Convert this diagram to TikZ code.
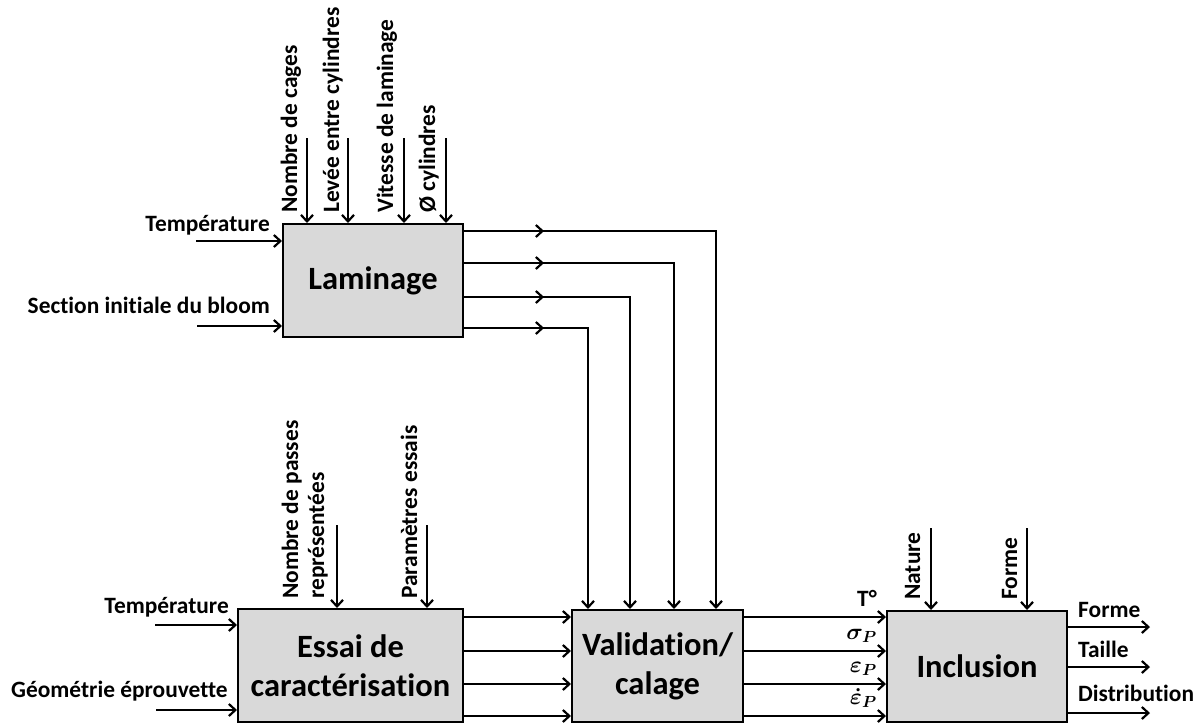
\RequirePackage{fix-cm}
\documentclass[tikz,border=0pt]{standalone}
\usepackage{fontspec}
\setmainfont{Carlito}[Ligatures={NoCommon}]
\usetikzlibrary{arrows.meta,decorations.markings}
\definecolor{boxgray}{HTML}{D9D9D9}
\begin{document}
\begin{tikzpicture}[x=1pt,y=-1pt,
  box/.style={draw,line width=2pt,fill=boxgray,align=center,inner sep=0pt,
    font=\fontsize{32.5}{39}\selectfont\bfseries},
  lbl/.style={inner sep=0pt,font=\fontsize{23.4}{26}\selectfont\bfseries},
  mlbl/.style={inner sep=0pt,font=\fontsize{23}{26}\selectfont\boldmath},
  vlbl/.style={lbl,rotate=90,anchor=base west},
  ln/.style={line width=2pt},
  arr/.style={line width=2.2pt,-{Straight Barb[length=6.5pt,width=12pt]}},
  midarr/.style={postaction={decorate},decoration={markings,
    mark=at position 80pt with {\arrow{Straight Barb[length=6.5pt,width=12pt]}}}}
]
\useasboundingbox (0,0) rectangle (1200,724);

% boxes
\node[box,minimum width=180pt,minimum height=113pt] (lam) at (373,280.5) {Laminage};
\node[box,minimum width=225pt,minimum height=113pt] (ess) at (350.5,665.5) {Essai de\\caractérisation};
\node[box,minimum width=171pt,minimum height=112pt] (val) at (657.5,666) {Validation/\\calage};
\node[box,minimum width=180pt,minimum height=111pt] (inc) at (977,666.5) {Inclusion};

% Laminage inputs
\coordinate (lt) at (196,241);
\draw[arr] (lt) -- (lt -| lam.west);
\node[lbl,anchor=base east] (ltl) at (270,231) {Température};
\coordinate (ls) at (197,326);
\draw[arr] (ls) -- (ls -| lam.west);
\node[lbl,anchor=base east] (lsl) at (270,313) {Section initiale du bloom};

% Laminage controls
\coordinate (lc1) at (307,138);
\coordinate (lc2) at (348,138);
\coordinate (lc3) at (404,138);
\coordinate (lc4) at (446,138);
\foreach \c in {lc1,lc2,lc3,lc4} \draw[arr] (\c) -- (\c |- lam.north);
\node[vlbl] (lcl1) at (297,213) {Nombre de cages};
\node[vlbl] (lcl2) at (339,213) {Levée entre cylindres};
\node[vlbl] (lcl3) at (393,213) {Vitesse de laminage};
\node[vlbl] (lcl4) at (435,213) {Ø cylindres};

% Laminage outputs to Validation
\draw[arr,midarr] ([yshift=-8pt]lam.north east) -| ([xshift=145pt]val.north west);
\draw[arr,midarr] ([yshift=-40pt]lam.north east) -| ([xshift=103pt]val.north west);
\draw[arr,midarr] ([yshift=-74pt]lam.north east) -| ([xshift=59pt]val.north west);
\draw[arr,midarr] ([yshift=-105pt]lam.north east) -| ([xshift=17pt]val.north west);

% Essai inputs
\coordinate (et) at (155,625);
\draw[arr] (et) -- (et -| ess.west);
\node[lbl,anchor=base east] (etl) at (229,613) {Température};
\coordinate (eg) at (156,710);
\draw[arr] (eg) -- (eg -| ess.west);
\node[lbl,anchor=base east] (egl) at (228,697) {Géométrie éprouvette};

% Essai controls
\coordinate (ec1) at (337,525);
\coordinate (ec2) at (427,525);
\draw[arr] (ec1) -- (ec1 |- ess.north);
\draw[arr] (ec2) -- (ec2 |- ess.north);
\node[vlbl] (ecl1a) at (298,599) {Nombre de passes};
\node[vlbl] (ecl1b) at (324,599) {représentées};
\node[vlbl] (ecl2) at (417,599) {Paramètres essais};

% Essai outputs to Validation
\foreach \y/\n in {617/e1,651/e2,684/e3,716/e4}{
  \coordinate (\n) at (ess.east |- 0,\y);
  \draw[arr] (\n) -- (\n -| val.west);
}

% Validation outputs to Inclusion
\foreach \y/\n in {617/v1,651/v2,684/v3,716/v4}{
  \coordinate (\n) at (val.east |- 0,\y);
  \draw[arr] (\n) -- (\n -| inc.west);
}
\node[lbl,anchor=base east] (vl1) at (877,606) {T°};
\node[mlbl,anchor=base east] (vl2) at (877,639) {$\sigma_P$};
\node[mlbl,anchor=base east] (vl3) at (877,672) {$\varepsilon_P$};
\node[mlbl,anchor=base east] (vl4) at (877,704) {$\dot{\varepsilon}_P$};

% Inclusion controls
\coordinate (ic1) at (931,528);
\coordinate (ic2) at (1027,528);
\draw[arr] (ic1) -- (ic1 |- inc.north);
\draw[arr] (ic2) -- (ic2 |- inc.north);
\node[vlbl] (icl1) at (920,600) {Nature};
\node[vlbl] (icl2) at (1017,600) {Forme};

% Inclusion outputs
\foreach \y/\n in {627/o1,667/o2,713/o3}{
  \coordinate (\n) at (1150,\y);
  \draw[arr] (\n -| inc.east) -- (\n);
}
\node[lbl,anchor=base west] (ol1) at (1078,617) {Forme};
\node[lbl,anchor=base west] (ol2) at (1078,657) {Taille};
\node[lbl,anchor=base west] (ol3) at (1078,701) {Distribution};
\end{tikzpicture}
\end{document}
